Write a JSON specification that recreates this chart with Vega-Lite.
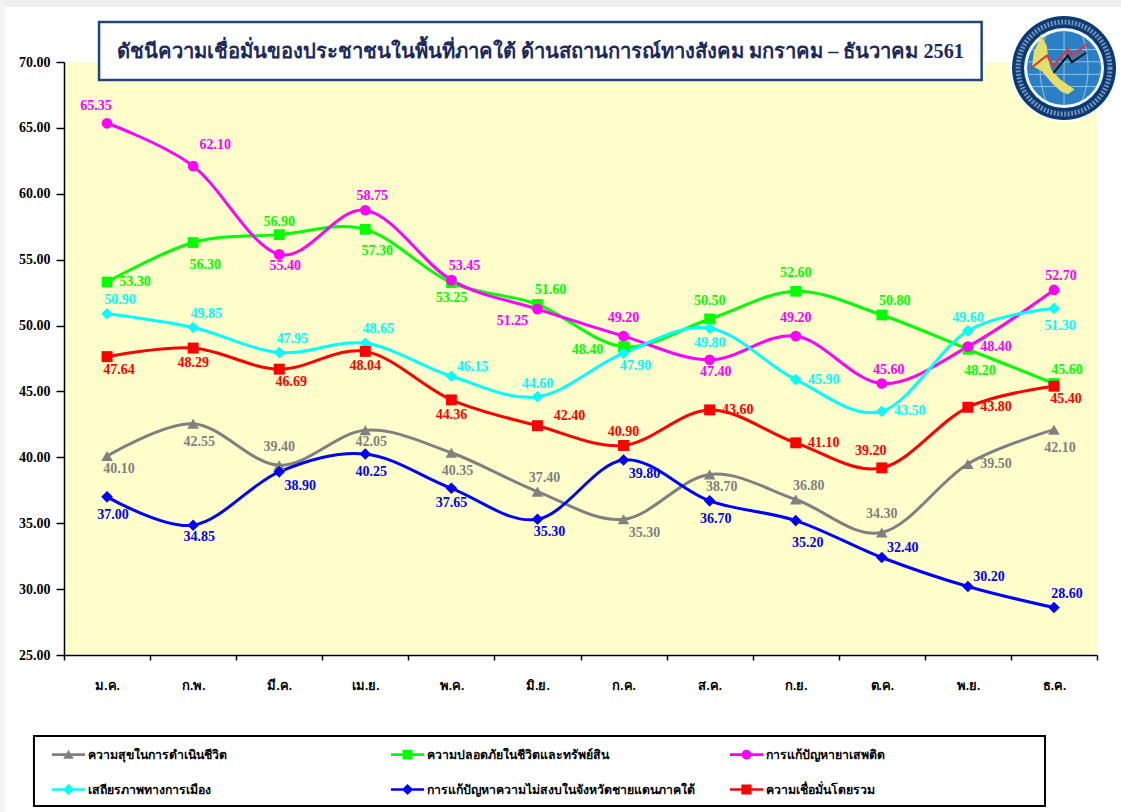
{"$schema":"https://vega.github.io/schema/vega-lite/v6.json","autosize":{"type":"none"},"padding":{"left":64,"top":62,"right":24,"bottom":157},"width":1033,"height":593,"background":"#ffffff","view":{"fill":"#FFFFCC","stroke":null},"config":{"font":"Liberation Serif","axis":{"grid":false}},"title":{"text":"ดัชนีความเชื่อมั่นของประชาชนในพื้นที่ภาคใต้ ด้านสถานการณ์ทางสังคม มกราคม – ธันวาคม 2561","font":"Liberation Serif","fontSize":20.2,"fontWeight":"bold","color":"#1B2A5C","anchor":"middle","frame":"group","dx":-40,"offset":0,"dy":62},"data":{"values":[
{"month":"ม.ค.","series":"ความสุขในการดำเนินชีวิต","value":40.10,"id":"G1"},{"month":"ก.พ.","series":"ความสุขในการดำเนินชีวิต","value":42.55,"id":"G2"},{"month":"มี.ค.","series":"ความสุขในการดำเนินชีวิต","value":39.40,"id":"G3"},{"month":"เม.ย.","series":"ความสุขในการดำเนินชีวิต","value":42.05,"id":"G4"},{"month":"พ.ค.","series":"ความสุขในการดำเนินชีวิต","value":40.35,"id":"G5"},{"month":"มิ.ย.","series":"ความสุขในการดำเนินชีวิต","value":37.40,"id":"G6"},{"month":"ก.ค.","series":"ความสุขในการดำเนินชีวิต","value":35.30,"id":"G7"},{"month":"ส.ค.","series":"ความสุขในการดำเนินชีวิต","value":38.70,"id":"G8"},{"month":"ก.ย.","series":"ความสุขในการดำเนินชีวิต","value":36.80,"id":"G9"},{"month":"ต.ค.","series":"ความสุขในการดำเนินชีวิต","value":34.30,"id":"G10"},{"month":"พ.ย.","series":"ความสุขในการดำเนินชีวิต","value":39.50,"id":"G11"},{"month":"ธ.ค.","series":"ความสุขในการดำเนินชีวิต","value":42.10,"id":"G12"},
{"month":"ม.ค.","series":"ความปลอดภัยในชีวิตและทรัพย์สิน","value":53.30,"id":"S1"},{"month":"ก.พ.","series":"ความปลอดภัยในชีวิตและทรัพย์สิน","value":56.30,"id":"S2"},{"month":"มี.ค.","series":"ความปลอดภัยในชีวิตและทรัพย์สิน","value":56.90,"id":"S3"},{"month":"เม.ย.","series":"ความปลอดภัยในชีวิตและทรัพย์สิน","value":57.30,"id":"S4"},{"month":"พ.ค.","series":"ความปลอดภัยในชีวิตและทรัพย์สิน","value":53.25,"id":"S5"},{"month":"มิ.ย.","series":"ความปลอดภัยในชีวิตและทรัพย์สิน","value":51.60,"id":"S6"},{"month":"ก.ค.","series":"ความปลอดภัยในชีวิตและทรัพย์สิน","value":48.40,"id":"S7"},{"month":"ส.ค.","series":"ความปลอดภัยในชีวิตและทรัพย์สิน","value":50.50,"id":"S8"},{"month":"ก.ย.","series":"ความปลอดภัยในชีวิตและทรัพย์สิน","value":52.60,"id":"S9"},{"month":"ต.ค.","series":"ความปลอดภัยในชีวิตและทรัพย์สิน","value":50.80,"id":"S10"},{"month":"พ.ย.","series":"ความปลอดภัยในชีวิตและทรัพย์สิน","value":48.20,"id":"S11"},{"month":"ธ.ค.","series":"ความปลอดภัยในชีวิตและทรัพย์สิน","value":45.60,"id":"S12"},
{"month":"ม.ค.","series":"การแก้ปัญหายาเสพติด","value":65.35,"id":"M1"},{"month":"ก.พ.","series":"การแก้ปัญหายาเสพติด","value":62.10,"id":"M2"},{"month":"มี.ค.","series":"การแก้ปัญหายาเสพติด","value":55.40,"id":"M3"},{"month":"เม.ย.","series":"การแก้ปัญหายาเสพติด","value":58.75,"id":"M4"},{"month":"พ.ค.","series":"การแก้ปัญหายาเสพติด","value":53.45,"id":"M5"},{"month":"มิ.ย.","series":"การแก้ปัญหายาเสพติด","value":51.25,"id":"M6"},{"month":"ก.ค.","series":"การแก้ปัญหายาเสพติด","value":49.20,"id":"M7"},{"month":"ส.ค.","series":"การแก้ปัญหายาเสพติด","value":47.40,"id":"M8"},{"month":"ก.ย.","series":"การแก้ปัญหายาเสพติด","value":49.20,"id":"M9"},{"month":"ต.ค.","series":"การแก้ปัญหายาเสพติด","value":45.60,"id":"M10"},{"month":"พ.ย.","series":"การแก้ปัญหายาเสพติด","value":48.40,"id":"M11"},{"month":"ธ.ค.","series":"การแก้ปัญหายาเสพติด","value":52.70,"id":"M12"},
{"month":"ม.ค.","series":"เสถียรภาพทางการเมือง","value":50.90,"id":"C1"},{"month":"ก.พ.","series":"เสถียรภาพทางการเมือง","value":49.85,"id":"C2"},{"month":"มี.ค.","series":"เสถียรภาพทางการเมือง","value":47.95,"id":"C3"},{"month":"เม.ย.","series":"เสถียรภาพทางการเมือง","value":48.65,"id":"C4"},{"month":"พ.ค.","series":"เสถียรภาพทางการเมือง","value":46.15,"id":"C5"},{"month":"มิ.ย.","series":"เสถียรภาพทางการเมือง","value":44.60,"id":"C6"},{"month":"ก.ค.","series":"เสถียรภาพทางการเมือง","value":47.90,"id":"C7"},{"month":"ส.ค.","series":"เสถียรภาพทางการเมือง","value":49.80,"id":"C8"},{"month":"ก.ย.","series":"เสถียรภาพทางการเมือง","value":45.90,"id":"C9"},{"month":"ต.ค.","series":"เสถียรภาพทางการเมือง","value":43.50,"id":"C10"},{"month":"พ.ย.","series":"เสถียรภาพทางการเมือง","value":49.60,"id":"C11"},{"month":"ธ.ค.","series":"เสถียรภาพทางการเมือง","value":51.30,"id":"C12"},
{"month":"ม.ค.","series":"การแก้ปัญหาความไม่สงบในจังหวัดชายแดนภาคใต้","value":37.00,"id":"B1"},{"month":"ก.พ.","series":"การแก้ปัญหาความไม่สงบในจังหวัดชายแดนภาคใต้","value":34.85,"id":"B2"},{"month":"มี.ค.","series":"การแก้ปัญหาความไม่สงบในจังหวัดชายแดนภาคใต้","value":38.90,"id":"B3"},{"month":"เม.ย.","series":"การแก้ปัญหาความไม่สงบในจังหวัดชายแดนภาคใต้","value":40.25,"id":"B4"},{"month":"พ.ค.","series":"การแก้ปัญหาความไม่สงบในจังหวัดชายแดนภาคใต้","value":37.65,"id":"B5"},{"month":"มิ.ย.","series":"การแก้ปัญหาความไม่สงบในจังหวัดชายแดนภาคใต้","value":35.30,"id":"B6"},{"month":"ก.ค.","series":"การแก้ปัญหาความไม่สงบในจังหวัดชายแดนภาคใต้","value":39.80,"id":"B7"},{"month":"ส.ค.","series":"การแก้ปัญหาความไม่สงบในจังหวัดชายแดนภาคใต้","value":36.70,"id":"B8"},{"month":"ก.ย.","series":"การแก้ปัญหาความไม่สงบในจังหวัดชายแดนภาคใต้","value":35.20,"id":"B9"},{"month":"ต.ค.","series":"การแก้ปัญหาความไม่สงบในจังหวัดชายแดนภาคใต้","value":32.40,"id":"B10"},{"month":"พ.ย.","series":"การแก้ปัญหาความไม่สงบในจังหวัดชายแดนภาคใต้","value":30.20,"id":"B11"},{"month":"ธ.ค.","series":"การแก้ปัญหาความไม่สงบในจังหวัดชายแดนภาคใต้","value":28.60,"id":"B12"},
{"month":"ม.ค.","series":"ความเชื่อมั่นโดยรวม","value":47.64,"id":"R1"},{"month":"ก.พ.","series":"ความเชื่อมั่นโดยรวม","value":48.29,"id":"R2"},{"month":"มี.ค.","series":"ความเชื่อมั่นโดยรวม","value":46.69,"id":"R3"},{"month":"เม.ย.","series":"ความเชื่อมั่นโดยรวม","value":48.04,"id":"R4"},{"month":"พ.ค.","series":"ความเชื่อมั่นโดยรวม","value":44.36,"id":"R5"},{"month":"มิ.ย.","series":"ความเชื่อมั่นโดยรวม","value":42.40,"id":"R6"},{"month":"ก.ค.","series":"ความเชื่อมั่นโดยรวม","value":40.90,"id":"R7"},{"month":"ส.ค.","series":"ความเชื่อมั่นโดยรวม","value":43.60,"id":"R8"},{"month":"ก.ย.","series":"ความเชื่อมั่นโดยรวม","value":41.10,"id":"R9"},{"month":"ต.ค.","series":"ความเชื่อมั่นโดยรวม","value":39.20,"id":"R10"},{"month":"พ.ย.","series":"ความเชื่อมั่นโดยรวม","value":43.80,"id":"R11"},{"month":"ธ.ค.","series":"ความเชื่อมั่นโดยรวม","value":45.40,"id":"R12"}
]},
"resolve":{"scale":{"x":"independent","y":"independent"}},
"layer":[
{"data":{"values":[{"item":"decor"}]},"encoding":{
"x":{"datum":0,"type":"quantitative","scale":{"domain":[0,12],"nice":false,"zero":false},"axis":null},
"y":{"datum":70,"type":"quantitative","scale":{"domain":[25,70],"nice":false,"zero":false},"axis":null}},
"layer":[
{"mark":{"type":"rect","fill":"#EEEEEE"},"encoding":{"x":{"datum":-0.75,"type":"quantitative","scale":{"domain":[0,12],"nice":false,"zero":false},"axis":null},"x2":{"datum":12.28},"y":{"datum":74.7,"type":"quantitative","scale":{"domain":[25,70],"nice":false,"zero":false},"axis":null},"y2":{"datum":74.17}}},
{"mark":{"type":"rect","fill":"#F4F4F4"},"encoding":{"x":{"datum":-0.75,"type":"quantitative","scale":{"domain":[0,12],"nice":false,"zero":false},"axis":null},"x2":{"datum":-0.69},"y":{"datum":74.7,"type":"quantitative","scale":{"domain":[25,70],"nice":false,"zero":false},"axis":null},"y2":{"datum":13}}},
{"mark":{"type":"rect","fill":"#FFFFFF","stroke":"#24457A","strokeWidth":2.5},"encoding":{"x":{"datum":0.407,"type":"quantitative","scale":{"domain":[0,12],"nice":false,"zero":false},"axis":null},"x2":{"datum":10.66},"y":{"datum":73.04,"type":"quantitative","scale":{"domain":[25,70],"nice":false,"zero":false},"axis":null},"y2":{"datum":68.63}}},
{"mark":{"type":"rect","fill":"#FFFFFF","stroke":"#000000","strokeWidth":2},"encoding":{"x":{"datum":-0.349,"type":"quantitative","scale":{"domain":[0,12],"nice":false,"zero":false},"axis":null},"x2":{"datum":11.396},"y":{"datum":18.85,"type":"quantitative","scale":{"domain":[25,70],"nice":false,"zero":false},"axis":null},"y2":{"datum":13.54}}},
{"mark":{"type":"point","shape":"circle","filled":true,"fill":"#FFFFFF","opacity":1,"size":11664},"encoding":{"x":{"datum":11.617,"type":"quantitative"},"y":{"datum":69.54,"type":"quantitative"}}},
{"mark":{"type":"point","shape":"circle","filled":true,"fill":"#0A3A74","opacity":1,"size":10816},"encoding":{"x":{"datum":11.617,"type":"quantitative"},"y":{"datum":69.54,"type":"quantitative"}}},
{"mark":{"type":"point","shape":"circle","filled":false,"stroke":"#C9D8EA","strokeWidth":5,"strokeDash":[2,1.5],"opacity":0.55,"size":8464},"encoding":{"x":{"datum":11.617,"type":"quantitative"},"y":{"datum":69.54,"type":"quantitative"}}},
{"mark":{"type":"point","shape":"circle","filled":true,"fill":"#F2F6FA","opacity":1,"size":6400},"encoding":{"x":{"datum":11.617,"type":"quantitative"},"y":{"datum":69.54,"type":"quantitative"}}},
{"mark":{"type":"point","shape":"circle","filled":true,"fill":"#2B7FC4","opacity":1,"size":5476},"encoding":{"x":{"datum":11.617,"type":"quantitative"},"y":{"datum":69.54,"type":"quantitative"}}},
{"mark":{"type":"point","shape":"M-0.86,-0.5H0.86M-0.98,-0.17H0.98M-0.98,0.17H0.98M-0.86,0.5H0.86M-0.5,-0.86C-0.7,-0.3,-0.7,0.3,-0.5,0.86M0,-1V1M0.5,-0.86C0.7,-0.3,0.7,0.3,0.5,0.86","filled":false,"stroke":"#BFDDF2","strokeWidth":0.7,"opacity":1,"size":5476},"encoding":{"x":{"datum":11.617,"type":"quantitative"},"y":{"datum":69.54,"type":"quantitative"}}},
{"mark":{"type":"point","shape":"M-0.69,-1L-0.51,-0.66L-0.46,-0.23L-0.37,0.06L-0.11,0.34L0.31,0.63L0.11,0.77L-0.09,0.69L-0.37,0.43L-0.66,0.09L-0.94,-0.06L-0.89,-0.49L-0.74,-0.8Z","filled":true,"fill":"#E4DF6A","opacity":1,"size":4600},"encoding":{"x":{"datum":11.617,"type":"quantitative"},"y":{"datum":69.54,"type":"quantitative"}}},
{"mark":{"type":"point","shape":"M-0.97,0L-0.51,-0.37L-0.31,-0.06L0.11,-0.57L0.23,-0.37L0.69,-0.71","filled":false,"stroke":"#E8303A","strokeWidth":2,"opacity":1,"size":4600},"encoding":{"x":{"datum":11.617,"type":"quantitative"},"y":{"datum":69.54,"type":"quantitative"}}},
{"mark":{"type":"point","shape":"M-0.31,0.14L0.11,-0.37L0.23,-0.17L0.66,-0.46","filled":false,"stroke":"#111111","strokeWidth":2,"opacity":1,"size":4600},"encoding":{"x":{"datum":11.617,"type":"quantitative"},"y":{"datum":69.54,"type":"quantitative"}}}
]},
{"encoding":{
"x":{"field":"month","type":"nominal","sort":["ม.ค.","ก.พ.","มี.ค.","เม.ย.","พ.ค.","มิ.ย.","ก.ค.","ส.ค.","ก.ย.","ต.ค.","พ.ย.","ธ.ค."],"scale":{"paddingInner":0,"paddingOuter":0},"axis":{"title":null,"labelAngle":0,"tickBand":"extent","tickSize":5,"tickColor":"#000000","tickWidth":1.5,"domainColor":"#000000","domainWidth":1.5,"labelPadding":19,"labelFont":"Liberation Serif","labelFontSize":13,"labelFontWeight":"bold","labelColor":"#000000"}},
"y":{"field":"value","type":"quantitative","scale":{"domain":[25,70],"nice":false,"zero":false},"axis":{"title":null,"values":[25,30,35,40,45,50,55,60,65,70],"format":".2f","tickSize":8,"tickColor":"#000000","tickWidth":1.5,"domainColor":"#000000","domainWidth":1.5,"labelPadding":6,"labelFont":"Liberation Serif","labelFontSize":14,"labelFontWeight":"bold","labelColor":"#000000"}},
"color":{"field":"series","type":"nominal","legend":{"title":null,"orient":"none","direction":"horizontal","legendX":-12,"legendY":676,"columns":3,"gridAlign":"all","columnPadding":35,"rowPadding":12,"symbolSize":1089,"symbolStrokeWidth":0,"labelFont":"Liberation Serif","labelFontSize":12.3,"labelFontWeight":"bold","labelColor":"#000000","labelLimit":320,"labelOffset":3},"scale":{"domain":["ความสุขในการดำเนินชีวิต","ความปลอดภัยในชีวิตและทรัพย์สิน","การแก้ปัญหายาเสพติด","เสถียรภาพทางการเมือง","การแก้ปัญหาความไม่สงบในจังหวัดชายแดนภาคใต้","ความเชื่อมั่นโดยรวม"],"range":["#808080","#00FF00","#FF00FF","#00FFFF","#0000FF","#FF0000"]}}
},
"layer":[
{"mark":{"type":"line","interpolate":"cardinal","tension":0,"strokeWidth":3}},
{"transform":[{"filter":"false"}],"mark":{"type":"point","filled":true,"opacity":1},"encoding":{
"shape":{"field":"series","type":"nominal","legend":null,"scale":{"domain":["ความสุขในการดำเนินชีวิต","ความปลอดภัยในชีวิตและทรัพย์สิน","การแก้ปัญหายาเสพติด","เสถียรภาพทางการเมือง","การแก้ปัญหาความไม่สงบในจังหวัดชายแดนภาคใต้","ความเชื่อมั่นโดยรวม"],"range":["M-1,-0.08H1V0.08H-1Z M-0.32,0.25L0,-0.3L0.32,0.25Z","M-1,-0.08H1V0.08H-1Z M-0.3,-0.3H0.3V0.3H-0.3Z","M-1,-0.08H1V0.08H-1Z M-0.3,0A0.3,0.3 0 1,1 0.3,0A0.3,0.3 0 1,1 -0.3,0Z","M-1,-0.08H1V0.08H-1Z M0,-0.33L0.33,0L0,0.33L-0.33,0Z","M-1,-0.08H1V0.08H-1Z M0,-0.34L0.34,0L0,0.34L-0.34,0Z","M-1,-0.08H1V0.08H-1Z M-0.31,-0.31H0.31V0.31H-0.31Z"]}}}},
{"transform":[{"filter":{"field":"series","equal":"ความสุขในการดำเนินชีวิต"}}],"mark":{"type":"point","shape":"triangle-up","filled":true,"opacity":1,"size":135}},
{"transform":[{"filter":{"field":"series","equal":"ความปลอดภัยในชีวิตและทรัพย์สิน"}}],"mark":{"type":"point","shape":"square","filled":true,"opacity":1,"size":115}},
{"transform":[{"filter":{"field":"series","equal":"การแก้ปัญหายาเสพติด"}}],"mark":{"type":"point","shape":"circle","filled":true,"opacity":1,"size":115}},
{"transform":[{"filter":{"field":"series","equal":"เสถียรภาพทางการเมือง"}}],"mark":{"type":"point","shape":"diamond","filled":true,"opacity":1,"size":135}},
{"transform":[{"filter":{"field":"series","equal":"การแก้ปัญหาความไม่สงบในจังหวัดชายแดนภาคใต้"}}],"mark":{"type":"point","shape":"diamond","filled":true,"opacity":1,"size":135}},
{"transform":[{"filter":{"field":"series","equal":"ความเชื่อมั่นโดยรวม"}}],"mark":{"type":"point","shape":"square","filled":true,"opacity":1,"size":120}},
{"transform":[{"filter":{"field":"id","oneOf":["M1","R10"]}}],"mark":{"type":"text","dx":-11,"dy":-17,"fontSize":14,"fontWeight":"bold","font":"Liberation Serif"},"encoding":{"text":{"field":"value","type":"quantitative","format":".2f"}}},
{"transform":[{"filter":{"field":"id","oneOf":["S3","C6","R7","C11"]}}],"mark":{"type":"text","dx":0,"dy":-13,"fontSize":14,"fontWeight":"bold","font":"Liberation Serif"},"encoding":{"text":{"field":"value","type":"quantitative","format":".2f"}}},
{"transform":[{"filter":{"field":"id","oneOf":["M7","M9","S8","S9","G3","G10"]}}],"mark":{"type":"text","dx":0,"dy":-18,"fontSize":14,"fontWeight":"bold","font":"Liberation Serif"},"encoding":{"text":{"field":"value","type":"quantitative","format":".2f"}}},
{"transform":[{"filter":{"field":"id","oneOf":["M4","M10","M12","G6"]}}],"mark":{"type":"text","dx":7,"dy":-14,"fontSize":14,"fontWeight":"bold","font":"Liberation Serif"},"encoding":{"text":{"field":"value","type":"quantitative","format":".2f"}}},
{"transform":[{"filter":{"field":"id","oneOf":["C1","C2","C3","C4","M5","S6","S10","S12","G9","B12"]}}],"mark":{"type":"text","dx":13,"dy":-14,"fontSize":14,"fontWeight":"bold","font":"Liberation Serif"},"encoding":{"text":{"field":"value","type":"quantitative","format":".2f"}}},
{"transform":[{"filter":{"field":"id","oneOf":["M2"]}}],"mark":{"type":"text","dx":22,"dy":-21,"fontSize":14,"fontWeight":"bold","font":"Liberation Serif"},"encoding":{"text":{"field":"value","type":"quantitative","format":".2f"}}},
{"transform":[{"filter":{"field":"id","oneOf":["C5","B10","B11"]}}],"mark":{"type":"text","dx":21,"dy":-9,"fontSize":14,"fontWeight":"bold","font":"Liberation Serif"},"encoding":{"text":{"field":"value","type":"quantitative","format":".2f"}}},
{"transform":[{"filter":{"field":"id","oneOf":["R6"]}}],"mark":{"type":"text","dx":32,"dy":-10,"fontSize":14,"fontWeight":"bold","font":"Liberation Serif"},"encoding":{"text":{"field":"value","type":"quantitative","format":".2f"}}},
{"transform":[{"filter":{"field":"id","oneOf":["S1","C9","C10","R9","R11","G11","M11","R8"]}}],"mark":{"type":"text","dx":28,"dy":0,"fontSize":14,"fontWeight":"bold","font":"Liberation Serif"},"encoding":{"text":{"field":"value","type":"quantitative","format":".2f"}}},
{"transform":[{"filter":{"field":"id","oneOf":["R2","R4","S5","R5","B5","C8"]}}],"mark":{"type":"text","dx":0,"dy":15,"fontSize":14,"fontWeight":"bold","font":"Liberation Serif"},"encoding":{"text":{"field":"value","type":"quantitative","format":".2f"}}},
{"transform":[{"filter":{"field":"id","oneOf":["M3","M8","G4","B2"]}}],"mark":{"type":"text","dx":6,"dy":12,"fontSize":14,"fontWeight":"bold","font":"Liberation Serif"},"encoding":{"text":{"field":"value","type":"quantitative","format":".2f"}}},
{"transform":[{"filter":{"field":"id","oneOf":["B1","B4","B8","C12","G2","G5","G12"]}}],"mark":{"type":"text","dx":6,"dy":18,"fontSize":14,"fontWeight":"bold","font":"Liberation Serif"},"encoding":{"text":{"field":"value","type":"quantitative","format":".2f"}}},
{"transform":[{"filter":{"field":"id","oneOf":["R1","R3","C7","G1","G8","R12","B6"]}}],"mark":{"type":"text","dx":12,"dy":13,"fontSize":14,"fontWeight":"bold","font":"Liberation Serif"},"encoding":{"text":{"field":"value","type":"quantitative","format":".2f"}}},
{"transform":[{"filter":{"field":"id","oneOf":["S2","S4","B9","S11"]}}],"mark":{"type":"text","dx":12,"dy":22,"fontSize":14,"fontWeight":"bold","font":"Liberation Serif"},"encoding":{"text":{"field":"value","type":"quantitative","format":".2f"}}},
{"transform":[{"filter":{"field":"id","oneOf":["B3","G7","B7"]}}],"mark":{"type":"text","dx":21,"dy":14,"fontSize":14,"fontWeight":"bold","font":"Liberation Serif"},"encoding":{"text":{"field":"value","type":"quantitative","format":".2f"}}},
{"transform":[{"filter":{"field":"id","oneOf":["M6"]}}],"mark":{"type":"text","dx":-25,"dy":12,"fontSize":14,"fontWeight":"bold","font":"Liberation Serif"},"encoding":{"text":{"field":"value","type":"quantitative","format":".2f"}}},
{"transform":[{"filter":{"field":"id","oneOf":["S7"]}}],"mark":{"type":"text","dx":-36,"dy":3,"fontSize":14,"fontWeight":"bold","font":"Liberation Serif"},"encoding":{"text":{"field":"value","type":"quantitative","format":".2f"}}}
]}
]}
